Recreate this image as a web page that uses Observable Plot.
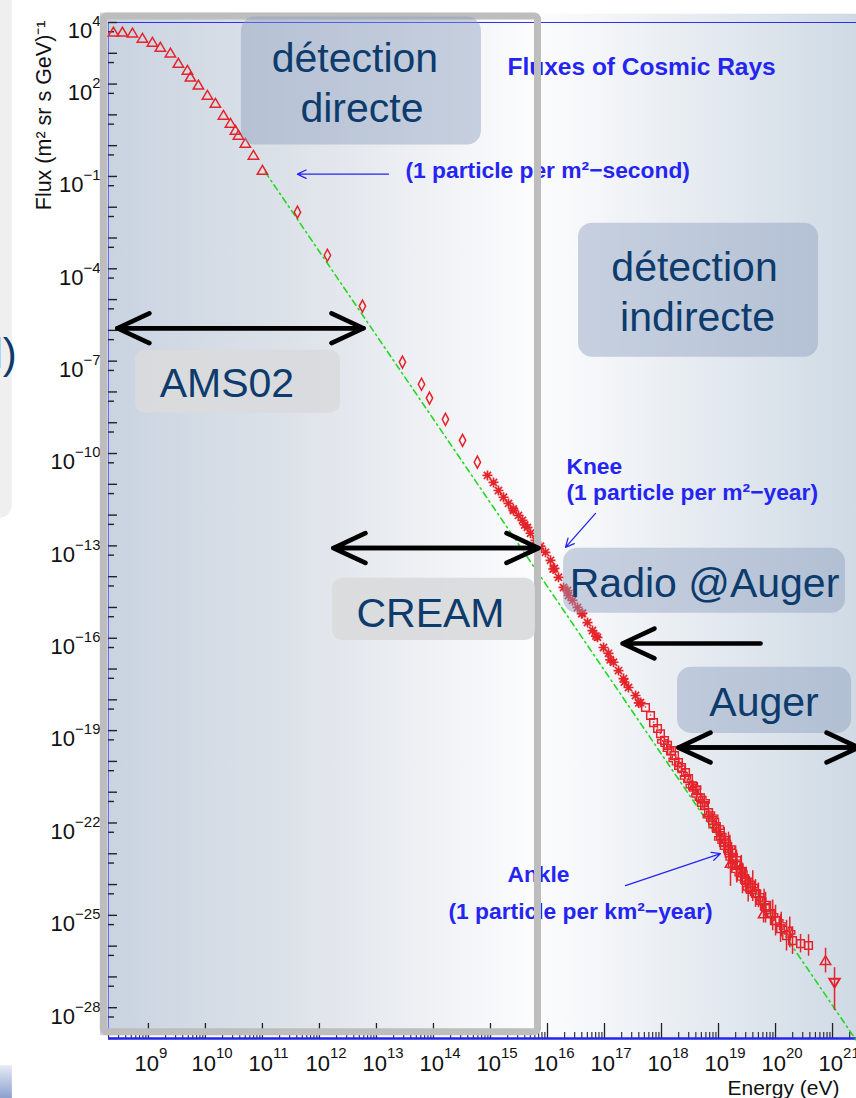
<!DOCTYPE html>
<html>
<head>
<meta charset="utf-8">
<script src="https://cdn.jsdelivr.net/npm/d3@7"></script>
<script src="https://cdn.jsdelivr.net/npm/@observablehq/plot@0.6"></script>
<style>
  html, body { margin: 0; padding: 0; background: #ffffff; }
  #chart { width: 856px; height: 1098px; overflow: hidden; position: relative; }
  #chart svg { display: block; overflow: hidden; }
</style>
</head>
<body>
<div id="chart"></div>
<script>
// ---------------- data (log10 of energy in eV, log10 of flux) ----------------
// low-energy direct measurements (open triangles)
const triLogE = [8.386, 8.544, 8.72, 8.895, 9.07, 9.21, 9.386, 9.526, 9.684, 9.737, 9.877, 10.035, 10.175, 10.316, 10.439, 10.526, 10.579, 10.70, 10.842, 11.0];
const triLogF = [3.69, 3.69, 3.66, 3.49, 3.36, 3.20, 3.01, 2.68, 2.45, 2.23, 1.97, 1.64, 1.38, 0.99, 0.73, 0.50, 0.34, 0.08, -0.31, -0.80];
// balloon / satellite (open diamonds)
const diaLogE = [11.614, 12.14, 12.754, 13.456, 13.79, 13.93, 14.21, 14.51, 14.77];
const diaLogF = [-2.16, -3.56, -5.21, -7.03, -7.75, -8.20, -8.89, -9.57, -10.28];
// knee region air showers (stars)
const starLogE = [14.947, 15.053, 15.140, 15.228, 15.316, 15.404, 15.491, 15.561, 15.649, 15.702, 15.789, 15.877, 15.965, 16.053, 16.123, 16.193, 16.281, 16.368, 16.439, 16.526, 16.614, 16.702, 16.789, 16.877, 16.982, 17.070, 17.158, 17.246, 17.333, 17.421, 17.544, 17.632];
const starLogF = [-10.71, -10.94, -11.20, -11.42, -11.62, -11.85, -12.01, -12.17, -12.40, -12.59, -12.82, -13.01, -13.21, -13.47, -13.73, -14.02, -14.35, -14.61, -14.77, -15.00, -15.19, -15.49, -15.75, -15.97, -16.30, -16.49, -16.78, -17.05, -17.31, -17.60, -17.86, -18.09];
const star2LogE = [15.40, 15.60, 15.85, 16.10, 16.35, 16.60, 16.85, 17.10, 17.35, 17.60];
const star2LogF = [-11.80, -12.32, -13.08, -13.75, -14.45, -15.20, -15.93, -16.70, -17.42, -18.10];
// ultra high energy (open squares, with error half-widths in decades)
const uheLogE = [17.719, 17.807, 17.860, 17.930, 17.982, 18.053, 18.105, 18.175, 18.228, 18.298, 18.351, 18.421, 18.474, 18.544, 18.614, 18.684, 18.754, 18.825, 18.895, 18.965, 19.035, 19.105, 19.175, 19.246, 19.316, 19.386, 19.474, 19.561, 19.649, 19.737, 19.825, 19.912, 20.000, 20.088, 20.193, 20.298, 20.439, 20.579];
const uheLogF = [-18.25, -18.51, -18.74, -18.93, -19.10, -19.32, -19.48, -19.65, -19.81, -20.04, -20.20, -20.36, -20.56, -20.79, -20.95, -21.18, -21.43, -21.66, -21.92, -22.18, -22.41, -22.64, -22.90, -23.16, -23.38, -23.61, -23.87, -24.10, -24.29, -24.52, -24.75, -24.94, -25.17, -25.43, -25.66, -25.82, -25.92, -25.98];
const uheErr  = [0.02, 0.02, 0.02, 0.02, 0.03, 0.03, 0.03, 0.04, 0.04, 0.05, 0.05, 0.06, 0.07, 0.08, 0.10, 0.10, 0.12, 0.15, 0.18, 0.20, 0.25, 0.30, 0.60, 0.40, 0.50, 0.35, 0.40, 0.30, 0.45, 0.35, 0.50, 0.40, 0.50, 0.45, 0.50, 0.45, 0.30, 0.35];
// ultra high energy (open crosses)
const crLogE = [18.60, 18.75, 18.90, 19.00, 19.10, 19.20, 19.30, 19.40, 19.50, 19.60, 19.70, 19.80, 19.95, 20.10, 20.25];
const crLogF = [-20.85, -21.30, -21.80, -22.15, -22.50, -22.80, -23.15, -23.50, -23.85, -24.05, -24.35, -24.60, -25.00, -25.30, -25.55];
const crErr  = [0.06, 0.08, 0.12, 0.30, 0.35, 0.40, 0.40, 0.45, 0.30, 0.50, 0.40, 0.45, 0.50, 0.40, 0.50];
// ultra high energy (second crosses series, slightly below)
const cr2LogE = [18.02, 18.12, 18.22, 18.32, 18.42, 18.52, 18.62, 18.72, 18.82, 18.92, 19.02, 19.12, 19.22, 19.32, 19.42, 19.52];
const cr2LogF = [-19.35, -19.62, -19.95, -20.20, -20.52, -20.80, -21.10, -21.40, -21.78, -22.10, -22.50, -22.80, -23.15, -23.55, -23.80, -24.12];
const cr2Err  = [0.03, 0.03, 0.04, 0.05, 0.06, 0.08, 0.10, 0.12, 0.15, 0.20, 0.30, 0.35, 0.45, 0.40, 0.50, 0.45];
// ultra high energy (open triangles up / down)
const uheTriLogE = [19.21, 19.79, 20.877];
const uheTriLogF = [-23.31, -24.95, -26.47];
const uheTriErr  = [0.75, 0.30, 0.40];
const uheDownLogE = [21.035];
const uheDownLogF = [-27.19];
const uheDownLo = [-28.09];
const uheDownHi = [-26.70];
// power-law reference (green dash-dot)
const fitLogE = [11.05, 21.42];
const fitLogF = [-0.86, -29.07];

// axis tick labels (exponents)
const yLabelExps = [4, 2, -1, -4, -7, -10, -13, -16, -19, -22, -25, -28];
const xLabelExps = [9, 10, 11, 12, 13, 14, 15, 16, 17, 18, 19, 20, 21];

// ROOT annotations (blue)
const noteTexts = ["Fluxes of Cosmic Rays", "(1 particle per m²−second)", "Knee", "(1 particle per m²−year)", "Ankle", "(1 particle per km²−year)"];
const noteLogE  = [15.298, 13.509, 16.333, 16.333, 15.298, 14.263];
const noteLogF  = [2.291, -1.057, -10.677, -11.522, -23.904, -25.107];
const noteSize  = [24.5, 22.8, 22.8, 22.8, 22.8, 22.8];
const noteArrE1 = [13.211, 16.842, 17.368];
const noteArrE2 = [11.614, 16.316, 19.035];
const noteArrF1 = [-0.927, -11.944, -24.034];
const noteArrF2 = [-0.927, -13.048, -22.994];

// slide overlay: boxes, labels, black arrows
const boxE1 = [10.632, 16.544, 8.772, 12.228, 16.281, 18.281];
const boxE2 = [14.842, 20.754, 12.368, 15.789, 21.228, 21.333];
const boxF1 = [4.175, -2.519, -6.644, -14.054, -13.08, -16.94];
const boxF2 = [0.0195, -6.874, -8.691, -16.069, -15.19, -19.09];
const boxKind = ["blue", "blue", "gray", "gray", "blue", "blue"];
const slideTexts = ["détection", "directe", "détection", "indirecte", "AMS02", "CREAM", "Radio @Auger", "Auger"];
const slideLogE  = [12.623, 12.746, 18.579, 18.632, 10.377, 13.947, 18.754, 19.798];
const slideLogF  = [2.388, 0.763, -4.404, -6.029, -8.174, -15.649, -14.674, -18.509];
const rangeNames = ["AMS02", "CREAM", "Auger"];
const rangeE1 = [8.456, 12.246, 18.298];
const rangeE2 = [12.772, 15.842, 21.456];
const rangeF  = [-5.93, -13.07, -19.55];
const radioE1 = [19.737], radioE2 = [17.316], radioF = [-16.17];
// direct-detection frame and slide leftovers
const frameE = [8.219, 15.833], frameF = [4.192, -28.795];

// ---------------- helpers ----------------
const P = v => 10 ** v;
const zip = (e, f, extra = {}) => e.map((v, i) => {
  const o = {E: P(v), F: P(f[i])};
  for (const k in extra) o[k] = extra[k][i];
  return o;
});
const RED = "#e5232a", BLUE = "#2525f2", NAVY = "#0d3b6c";
const FONT = "Liberation Sans, Arial, Helvetica, sans-serif";

const symTri = {draw(c) { c.moveTo(0, -4.8); c.lineTo(5.2, 4); c.lineTo(-5.2, 4); c.closePath(); }};
const symTriDown = {draw(c) { c.moveTo(0, 4.8); c.lineTo(5.2, -4); c.lineTo(-5.2, -4); c.closePath(); }};
const symDia = {draw(c) { c.moveTo(0, -6); c.lineTo(3.2, 0); c.lineTo(0, 6); c.lineTo(-3.2, 0); c.closePath(); }};
const symStar = {draw(c) {
  c.moveTo(-5, 0); c.lineTo(5, 0); c.moveTo(0, -5); c.lineTo(0, 5);
  c.moveTo(-3.6, -3.6); c.lineTo(3.6, 3.6); c.moveTo(-3.6, 3.6); c.lineTo(3.6, -3.6);
}};
const symSq = {draw(c) { c.rect(-3.8, -3.8, 7.6, 7.6); }};
const symCross = {draw(c) {
  const a = 5, w = 1.7;
  c.moveTo(-w, -a); c.lineTo(w, -a); c.lineTo(w, -w); c.lineTo(a, -w); c.lineTo(a, w); c.lineTo(w, w);
  c.lineTo(w, a); c.lineTo(-w, a); c.lineTo(-w, w); c.lineTo(-a, w); c.lineTo(-a, -w); c.lineTo(-w, -w); c.closePath();
}};

const SUP = "⁰¹²³⁴⁵⁶⁷⁸⁹";
const supFmt = d => "10" + String(Math.round(Math.log10(d))).replace("-", "⁻").replace(/\d/g, c => SUP[+c]);

const tri = zip(triLogE, triLogF);
const dia = zip(diaLogE, diaLogF);
const stars = zip(starLogE, starLogF).concat(zip(star2LogE, star2LogF));
const uhe = zip(uheLogE, uheLogF, {err: uheErr});
const crs = zip(crLogE, crLogF, {err: crErr}).concat(zip(cr2LogE, cr2LogF, {err: cr2Err}));
const utri = zip(uheTriLogE, uheTriLogF, {err: uheTriErr});
const udown = uheDownLogE.map((e, i) => ({E: P(e), F: P(uheDownLogF[i]), lo: P(uheDownLo[i]), hi: P(uheDownHi[i])}));
const fit = zip(fitLogE, fitLogF);
const errs = uhe.concat(crs, utri).map(d => ({E: d.E, lo: d.F / 10 ** d.err, hi: d.F * 10 ** d.err}));

const notes = noteTexts.map((t, i) => ({t, E: P(noteLogE[i]), F: P(noteLogF[i]), s: noteSize[i]}));
const noteArrows = noteArrE1.map((e, i) => ({E1: P(e), E2: P(noteArrE2[i]), F1: P(noteArrF1[i]), F2: P(noteArrF2[i])}));
const boxes = boxE1.map((e, i) => ({E1: P(e), E2: P(boxE2[i]), F1: P(boxF1[i]), F2: P(boxF2[i]), kind: boxKind[i]}));
const slide = slideTexts.map((t, i) => ({t, E: P(slideLogE[i]), F: P(slideLogF[i])}));
const ranges = rangeNames.map((n, i) => ({n, E1: P(rangeE1[i]), E2: P(rangeE2[i]), F: P(rangeF[i])}));
const radio = radioE1.map((e, i) => ({E1: P(e), E2: P(radioE2[i]), F: P(radioF[i])}));

// tick positions
const yMajor = d3.range(-29, 5).map(P);
const yMinor = d3.range(-29, 4).map(e => 5 * P(e));
const xMajor = d3.range(9, 22).map(P);
const xMinor = [];
for (let e = 8; e <= 21; e++) for (let k = 2; k <= 9; k++) {
  const v = k * P(e);
  if (v > P(8.3) && v < P(21.42)) xMinor.push(v);
}

const innerW = 856 - 108, innerH = 1098 - 22 - 60;
const one = [0];

const svg = Plot.plot({
  width: 856, height: 1098,
  marginLeft: 108, marginRight: 0, marginTop: 22, marginBottom: 60,
  style: {fontFamily: FONT, fontSize: "22px", background: "#ffffff", color: "#111"},
  x: {type: "log", domain: [P(8.3), P(21.42)], ticks: xLabelExps.map(P), tickFormat: supFmt, tickSize: 0, tickPadding: 17, label: null},
  y: {type: "log", domain: [P(-29), P(4)], ticks: yLabelExps.map(P), tickFormat: supFmt, tickSize: 0, tickPadding: 8, label: null},
  marks: [
    // slide backgrounds
    Plot.rect(one, {x1: P(8.158), x2: P(15.895), y1: P(4.305), y2: P(-28.909), fill: "url(#bgL)"}),
    Plot.rect(one, {x1: P(15.895), x2: P(21.6), y1: P(4.27), y2: P(-29), fill: "url(#bgR)"}),
    Plot.rect(one, {x1: P(6.2), x2: P(6.614), y1: P(5.3), y2: P(-12.107), fill: "#efefef", rx: 14}),
    Plot.rect(one, {x1: P(6.2), x2: P(6.614), y1: P(-29.884), y2: P(-31.3), fill: "url(#bgSq)"}),
    // ROOT frame lines
    Plot.ruleY([P(4)], {stroke: "#2f2ff5", strokeWidth: 1}),
    Plot.ruleX([P(8.3)], {stroke: "#6f6ff5", strokeWidth: 1}),
    // ticks
    Plot.tickY(yMajor, {insetRight: innerW - 9, stroke: "#222", strokeWidth: 1.4}),
    Plot.tickY(yMinor, {insetRight: innerW - 6, stroke: "#222", strokeWidth: 1.4}),
    Plot.tickX(xMajor, {insetTop: innerH - 15, stroke: "#222", strokeWidth: 1.3}),
    Plot.tickX(xMinor, {insetTop: innerH - 6, stroke: "#222", strokeWidth: 1.1}),
    Plot.ruleY([P(-29)], {stroke: "#2424f0", strokeWidth: 2.5}),
    // power law
    Plot.line(fit, {x: "E", y: "F", stroke: "#22d822", strokeWidth: 1.6, strokeDasharray: "6,4,1.5,4"}),
    // data
    Plot.ruleX(errs, {x: "E", y1: "lo", y2: "hi", stroke: RED, strokeWidth: 1.5}),
    Plot.ruleX(udown, {x: "E", y1: "lo", y2: "hi", stroke: RED, strokeWidth: 1.5}),
    Plot.dot(tri, {x: "E", y: "F", symbol: symTri, stroke: RED, fill: "none", strokeWidth: 1.5}),
    Plot.dot(dia, {x: "E", y: "F", symbol: symDia, stroke: RED, fill: "none", strokeWidth: 1.5}),
    Plot.dot(stars, {x: "E", y: "F", symbol: symStar, stroke: RED, fill: "none", strokeWidth: 1.7}),
    Plot.dot(uhe, {x: "E", y: "F", symbol: symSq, stroke: RED, fill: "none", strokeWidth: 1.5}),
    Plot.dot(crs, {x: "E", y: "F", symbol: symCross, stroke: RED, fill: "none", strokeWidth: 1.4}),
    Plot.dot(utri, {x: "E", y: "F", symbol: symTri, stroke: RED, fill: "none", strokeWidth: 1.5}),
    Plot.dot(udown, {x: "E", y: "F", symbol: symTriDown, stroke: RED, fill: "none", strokeWidth: 2}),
    // ROOT annotations
    Plot.text(notes, {x: "E", y: "F", text: "t", fontSize: d => d.s, fill: BLUE, fontWeight: "bold", textAnchor: "start", lineAnchor: "bottom", fontFamily: FONT}),
    Plot.arrow(noteArrows, {x1: "E1", y1: "F1", x2: "E2", y2: "F2", stroke: BLUE, strokeWidth: 1.3, headLength: 11, headAngle: 52}),
    // direct-detection frame
    Plot.rect(one, {x1: P(frameE[0]), x2: P(frameE[1]), y1: P(frameF[0]), y2: P(frameF[1]), fill: "none", stroke: "#bdbdbd", strokeWidth: 7, rx: 3}),
    // slide boxes
    Plot.rect(boxes.filter(d => d.kind === "blue"), {x1: "E1", x2: "E2", y1: "F1", y2: "F2", fill: "#8a9cbc", fillOpacity: 0.44, rx: 14}),
    Plot.rect(boxes.filter(d => d.kind === "gray"), {x1: "E1", x2: "E2", y1: "F1", y2: "F2", fill: "#d9dadd", fillOpacity: 0.93, rx: 10}),
    Plot.text(slide, {x: "E", y: "F", text: "t", fontSize: 41, fill: NAVY, textAnchor: "middle", lineAnchor: "bottom", fontFamily: FONT}),
    // black range arrows
    Plot.arrow(ranges, {x1: "E1", x2: "E2", y1: "F", y2: "F", stroke: "#000", strokeWidth: 4.6, headLength: 11.5, headAngle: 50, strokeLinecap: "round", strokeLinejoin: "round"}),
    Plot.arrow(ranges, {x1: "E2", x2: "E1", y1: "F", y2: "F", stroke: "#000", strokeWidth: 4.6, headLength: 11.5, headAngle: 50, strokeLinecap: "round", strokeLinejoin: "round"}),
    Plot.arrow(radio, {x1: "E1", x2: "E2", y1: "F", y2: "F", stroke: "#000", strokeWidth: 4.6, headLength: 11.5, headAngle: 50, strokeLinecap: "round", strokeLinejoin: "round"}),
    Plot.text(["l)"], {x: P(6.69), y: P(-7.232), text: d => d, fontSize: 42, fill: NAVY, textAnchor: "end", lineAnchor: "bottom", fontFamily: FONT}),
    // axis titles
    Plot.text(["Flux (m² sr s GeV)⁻¹"], {frameAnchor: "top-left", dx: -73, dy: -2, rotate: -90, textAnchor: "end", text: d => d, fontSize: 21.5, fill: "#111", fontFamily: FONT}),
    Plot.text(["Energy (eV)"], {frameAnchor: "bottom-right", dx: -129, dy: 56, textAnchor: "start", lineAnchor: "bottom", text: d => d, fontSize: 21, fill: "#111", fontFamily: FONT})
  ]
});

// gradients
const defs = d3.select(svg).insert("defs", ":first-child");
function grad(id, stops, vertical) {
  const g = defs.append("linearGradient").attr("id", id)
    .attr("x1", 0).attr("y1", 0).attr("x2", vertical ? 0 : 1).attr("y2", vertical ? 1 : 0);
  stops.forEach(([o, c]) => g.append("stop").attr("offset", o).attr("stop-color", c));
}
grad("bgL", [[0, "#c8d3e0"], [0.43, "#dde2e9"], [1, "#fdfdfe"]]);
grad("bgR", [[0, "#fcfcfd"], [1, "#ced9e4"]]);
grad("bgSq", [[0, "#e6ebf5"], [1, "#6f87c2"]], true);

// ROOT-style superscript exponents on tick labels
const SUPMAP = {"⁻": "−", "⁰": "0", "¹": "1", "²": "2", "³": "3", "⁴": "4", "⁵": "5", "⁶": "6", "⁷": "7", "⁸": "8", "⁹": "9"};
d3.select(svg).selectAll("text").each(function () {
  const m = /^10([⁻⁰¹²³⁴⁵⁶⁷⁸⁹]+)$/.exec(this.textContent);
  if (!m) return;
  const exp = [...m[1]].map(c => SUPMAP[c]).join("");
  const g = this.closest("g[aria-label]");
  const isX = g && /x-axis/.test(g.getAttribute("aria-label") || "");
  const sel = d3.select(this);
  sel.text(null);
  const base = sel.append("tspan").text("10");
  sel.append("tspan").attr("dy", isX ? -13 : -12).attr("font-size", 15).text(exp);
  if (isX) { sel.attr("text-anchor", "start"); base.attr("dx", -14); }
  else { sel.attr("dy", "0.40em"); }
});

document.getElementById("chart").appendChild(svg);
</script>
</body>
</html>
